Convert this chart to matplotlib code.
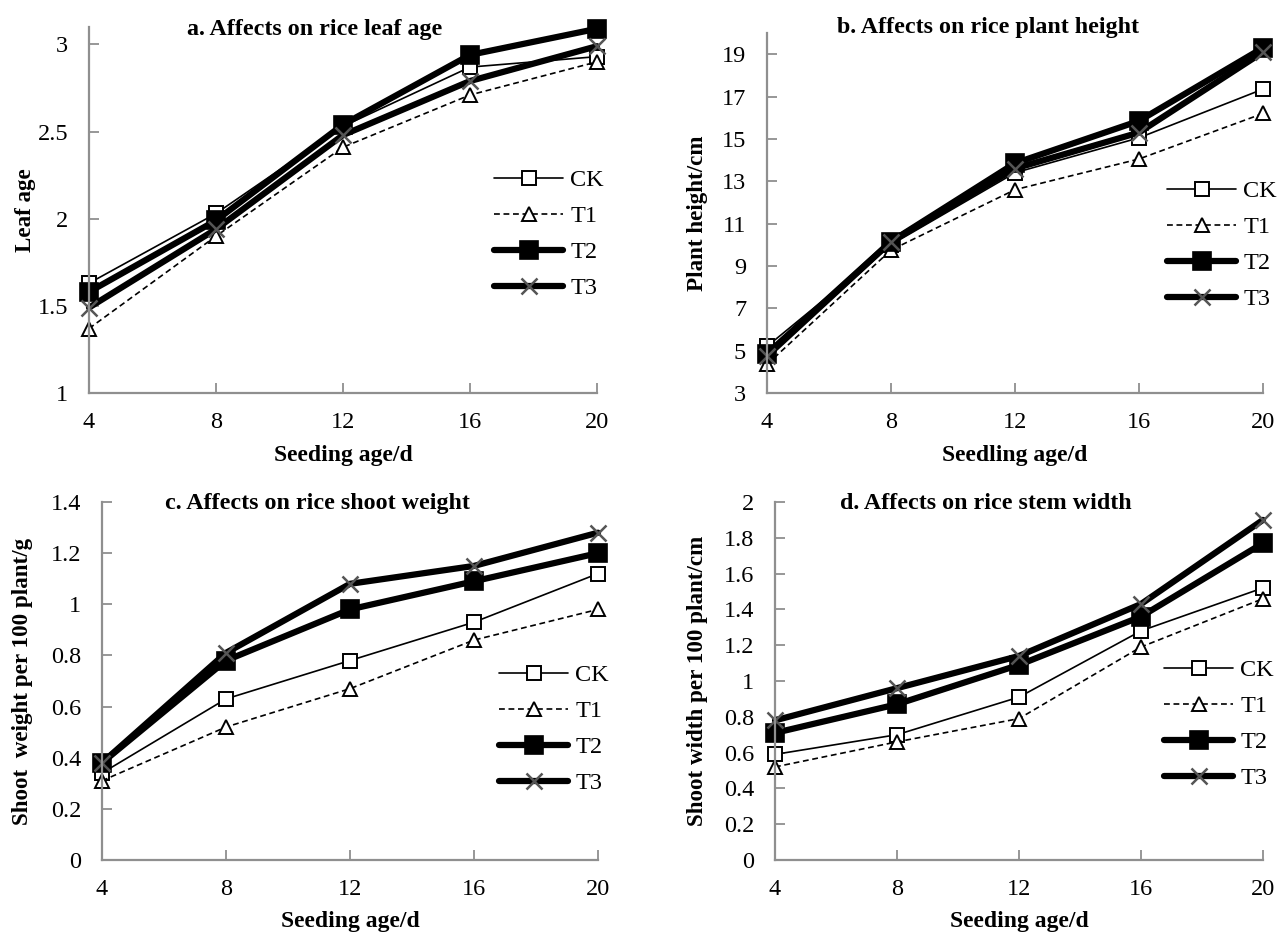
import matplotlib
matplotlib.use("Agg")
import matplotlib.pyplot as plt

plt.rcParams['font.family'] = ['Liberation Serif', 'DejaVu Serif']

days = [4, 8, 12, 16, 20]
series_names = ["CK", "T1", "T2", "T3"]

# a. leaf age
leaf_ck = [1.63, 2.03, 2.53, 2.87, 2.93]
leaf_t1 = [1.37, 1.90, 2.41, 2.71, 2.90]
leaf_t2 = [1.58, 1.99, 2.54, 2.94, 3.09]
leaf_t3 = [1.49, 1.94, 2.48, 2.79, 2.99]

# b. plant height
height_ck = [5.2, 10.0, 13.4, 15.05, 17.35]
height_t1 = [4.35, 9.75, 12.6, 14.05, 16.2]
height_t2 = [4.85, 10.15, 13.85, 15.85, 19.3]
height_t3 = [4.75, 10.15, 13.6, 15.3, 19.1]

# c. shoot weight
weight_ck = [0.34, 0.63, 0.78, 0.93, 1.12]
weight_t1 = [0.31, 0.52, 0.67, 0.86, 0.98]
weight_t2 = [0.38, 0.78, 0.98, 1.09, 1.20]
weight_t3 = [0.38, 0.81, 1.08, 1.15, 1.28]

# d. stem width
width_ck = [0.59, 0.70, 0.91, 1.28, 1.52]
width_t1 = [0.52, 0.66, 0.79, 1.19, 1.46]
width_t2 = [0.71, 0.87, 1.09, 1.36, 1.77]
width_t3 = [0.78, 0.96, 1.14, 1.43, 1.90]

W, H = 1280, 939
fig = plt.figure(figsize=(W / 100, H / 100), dpi=100)

AXIS_GRAY = "#8f8f8f"

styles = [
    dict(color="black", lw=1.2, ls="-", marker="s", ms=9.5, mfc="white", mec="black", mew=1.4),
    dict(color="black", lw=1.2, ls=(0, (3.5, 2.2)), marker="^", ms=10, mfc="white", mec="black", mew=1.4),
    dict(color="black", lw=4.5, ls="-", marker="s", ms=12.5, mfc="black", mec="black", mew=1.2),
    dict(color="black", lw=4.5, ls="-", marker="x", ms=12, mfc="none", mec="#555555", mew=1.8),
]


def px_axes(left, right, top, bottom):
    return fig.add_axes([left / W, 1 - bottom / H, (right - left) / W, (bottom - top) / H])


def panel(box, data, ylim, yticks, yticklabels, title, title_xy, ylabel, ylabel_x, xlabel, xlabel_y, leg_anchor):
    ax = px_axes(*box)
    for vals, st, name in zip(data, styles, series_names):
        ax.plot(days, vals, label=name, solid_capstyle="round", dash_capstyle="butt", clip_on=False, **st)
    ax.set_xlim(4, 20)
    ax.set_ylim(*ylim)
    ax.set_xticks(days)
    ax.set_yticks(yticks)
    ax.set_yticklabels(yticklabels)
    for s in ["top", "right"]:
        ax.spines[s].set_visible(False)
    for s in ["left", "bottom"]:
        ax.spines[s].set_color(AXIS_GRAY)
        ax.spines[s].set_linewidth(1.6)
    ax.tick_params(axis="both", direction="in", length=7, width=1.3, color=AXIS_GRAY,
                   labelsize=17.5, labelcolor="black")
    ax.tick_params(axis="x", pad=14)
    ax.tick_params(axis="y", pad=15)
    fig.text(title_xy[0] / W, 1 - title_xy[1] / H, title, ha="center", va="baseline",
             fontsize=17.3, fontweight="bold")
    fig.text(ylabel_x / W, 1 - (box[2] + box[3]) / 2 / H, ylabel, ha="center", va="center",
             rotation=90, fontsize=16.6, fontweight="bold")
    fig.text((box[0] + box[1]) / 2 / W, 1 - xlabel_y / H, xlabel, ha="center", va="center",
             fontsize=17, fontweight="bold")
    ax.legend(loc="upper left", bbox_to_anchor=(leg_anchor[0] / W, 1 - leg_anchor[1] / H),
              bbox_transform=fig.transFigure, frameon=False, fontsize=17.5,
              handlelength=2.85, handletextpad=0.28, labelspacing=0.58, borderpad=0, borderaxespad=0)
    return ax


panel((89, 597, 27, 393), [leaf_ck, leaf_t1, leaf_t2, leaf_t3], (1, 3.1),
      [1, 1.5, 2, 2.5, 3], ["1", "1.5", "2", "2.5", "3"],
      "a. Affects on rice leaf age", (315, 35), "Leaf age", 25, "Seeding age/d", 455, (494, 169))

panel((767, 1263, 33, 393), [height_ck, height_t1, height_t2, height_t3], (3, 20),
      [3, 5, 7, 9, 11, 13, 15, 17, 19], ["3", "5", "7", "9", "11", "13", "15", "17", "19"],
      "b. Affects on rice plant height", (988, 33), "Plant height/cm", 697, "Seedling age/d", 455, (1167, 180))

panel((102, 598, 502, 860), [weight_ck, weight_t1, weight_t2, weight_t3], (0, 1.4),
      [0, 0.2, 0.4, 0.6, 0.8, 1.0, 1.2, 1.4], ["0", "0.2", "0.4", "0.6", "0.8", "1", "1.2", "1.4"],
      "c. Affects on rice shoot weight", (317, 509), "Shoot  weight per 100 plant/g", 23, "Seeding age/d", 921, (499, 664))

panel((775, 1263, 502, 860), [width_ck, width_t1, width_t2, width_t3], (0, 2),
      [0, 0.2, 0.4, 0.6, 0.8, 1.0, 1.2, 1.4, 1.6, 1.8, 2.0],
      ["0", "0.2", "0.4", "0.6", "0.8", "1", "1.2", "1.4", "1.6", "1.8", "2"],
      "d. Affects on rice stem width", (986, 509), "Shoot width per 100 plant/cm", 697, "Seeding age/d", 921, (1164, 659))

fig.savefig("out.png", dpi=100)
